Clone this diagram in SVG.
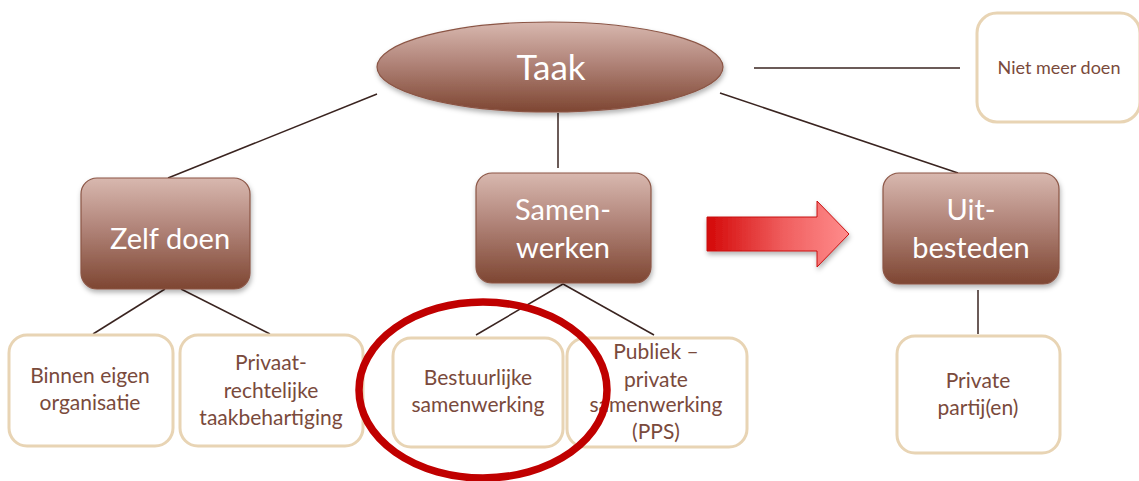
<svg xmlns="http://www.w3.org/2000/svg" width="1139" height="481" viewBox="0 0 1139 481">
<defs>
<linearGradient id="brown" x1="0" y1="0" x2="0" y2="1">
<stop offset="0" stop-color="#D8B8AF"/>
<stop offset="0.45" stop-color="#B18479"/>
<stop offset="1" stop-color="#7E4632"/>
</linearGradient>
<linearGradient id="red" x1="0" y1="0" x2="1" y2="0">
<stop offset="0" stop-color="#D40808"/>
<stop offset="0.55" stop-color="#F06060"/>
<stop offset="1" stop-color="#FF8C8C"/>
</linearGradient>
<filter id="sh" x="-10%" y="-10%" width="125%" height="130%">
<feDropShadow dx="1" dy="3" stdDeviation="2.5" flood-color="#000" flood-opacity="0.3"/>
</filter>
</defs>
<style>
.main{fill:url(#brown);stroke:#8B5545;stroke-width:1.2;filter:url(#sh)}
.sub{fill:#fff;stroke:#E8D4B4;stroke-width:3}
.big{font-family:Lato,"Open Sans","Liberation Sans",sans-serif;fill:#fff;text-anchor:middle}
.sm{font-family:Lato,"Open Sans","Liberation Sans",sans-serif;fill:#7A4A3C;text-anchor:middle;font-size:21px}
.ln{stroke:#3A2420;stroke-width:1.5;fill:none}
</style>
<rect width="1139" height="481" fill="#fff"/>
<g id="connectors">
<line class="ln" x1="377" y1="94" x2="168" y2="178"/>
<line class="ln" x1="558" y1="113" x2="558" y2="168"/>
<line class="ln" x1="754" y1="68" x2="960" y2="68"/>
<line class="ln" x1="720" y1="93" x2="958" y2="173"/>
<line class="ln" x1="165" y1="289" x2="93" y2="334"/>
<line class="ln" x1="181" y1="289" x2="270" y2="334"/>
<line class="ln" x1="563" y1="284" x2="476" y2="335"/>
<line class="ln" x1="563" y1="284" x2="654" y2="335"/>
<line class="ln" x1="978" y1="290" x2="978" y2="334"/>
</g>
<g id="taak">
<ellipse class="main" cx="550" cy="67" rx="173" ry="45"/>
<text class="big" x="551" y="80" font-size="35">Taak</text>
</g>
<g id="niet-meer-doen">
<rect class="sub" x="977" y="13" width="163" height="109" rx="20"/>
<text class="sm" x="1059" y="74" style="font-size:18px">Niet meer doen</text>
</g>
<g id="zelf-doen">
<rect class="main" x="81" y="178" width="169" height="111" rx="16"/>
<text class="big" x="170" y="249" font-size="29">Zelf doen</text>
</g>
<g id="samenwerken">
<rect class="main" x="476" y="173" width="175" height="110" rx="16"/>
<text class="big" x="563" y="220" font-size="29">Samen-</text>
<text class="big" x="563" y="258" font-size="29">werken</text>
</g>
<g id="uitbesteden">
<rect class="main" x="883" y="173" width="176" height="111" rx="16"/>
<text class="big" x="971" y="220" font-size="29">Uit-</text>
<text class="big" x="971" y="258" font-size="29">besteden</text>
</g>
<g id="arrow">
<path d="M707,217 L817,217 L817,201 L849,234 L817,267 L817,251 L707,251 Z" fill="url(#red)" stroke="#C81010" stroke-width="1" filter="url(#sh)"/>
</g>
<g id="binnen-eigen-organisatie">
<rect class="sub" x="9" y="335" width="164" height="111" rx="18"/>
<text class="sm" x="90" y="383">Binnen eigen</text>
<text class="sm" x="90" y="410">organisatie</text>
</g>
<g id="privaatrechtelijke">
<rect class="sub" x="180" y="335" width="183" height="111" rx="18"/>
<text class="sm" x="271" y="370">Privaat-</text>
<text class="sm" x="271" y="398">rechtelijke</text>
<text class="sm" x="271" y="425">taakbehartiging</text>
</g>
<g id="bestuurlijke-samenwerking">
<rect class="sub" x="393" y="338" width="170" height="109" rx="18"/>
<text class="sm" x="478" y="385">Bestuurlijke</text>
<text class="sm" x="478" y="412">samenwerking</text>
</g>
<g id="pps">
<rect class="sub" x="567" y="338" width="180" height="109" rx="18"/>
<text class="sm" x="656" y="359">Publiek –</text>
<text class="sm" x="656" y="387">private</text>
<text class="sm" x="656" y="412">samenwerking</text>
<text class="sm" x="656" y="439">(PPS)</text>
</g>
<g id="private-partijen">
<rect class="sub" x="897" y="336" width="163" height="117" rx="18"/>
<text class="sm" x="978" y="388">Private</text>
<text class="sm" x="978" y="415">partij(en)</text>
</g>
<g id="highlight">
<ellipse cx="483" cy="390" rx="124" ry="88" fill="none" stroke="#C00000" stroke-width="7.5"/>
</g>
</svg>
